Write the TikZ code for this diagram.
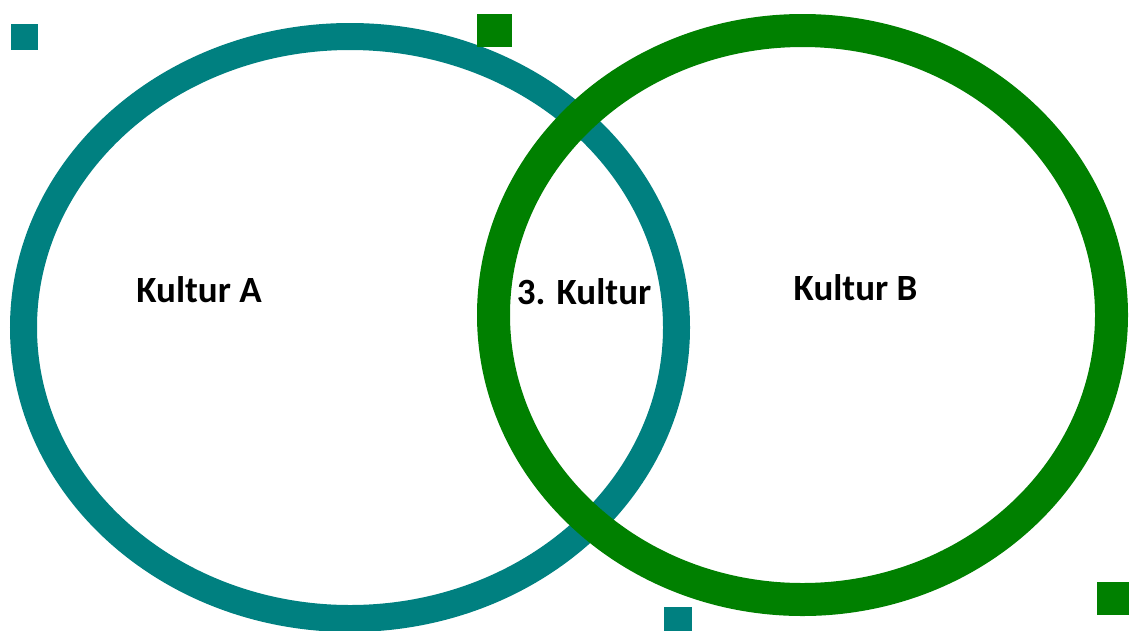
\documentclass[tikz,border=0pt]{standalone}
\usepackage{fontspec}
\setmainfont{Carlito}
\definecolor{tealA}{RGB}{0,128,128}
\definecolor{greenB}{RGB}{0,128,0}
\begin{document}
\begin{tikzpicture}[x=1pt,y=-1pt,
  ringA/.style={draw=tealA,line width=27pt},
  ringB/.style={draw=greenB,line width=33pt},
  lbl/.style={font=\fontsize{37}{44}\selectfont\bfseries,text=black,inner sep=0pt}]
\useasboundingbox[fill=white] (0,0) rectangle (1129,630);
\begin{scope}
\clip (0,0) rectangle (1129,630);
\draw[ringA] (350,327.5) ellipse [x radius=326.5, y radius=291];
\draw[ringB] (802.5,315) ellipse [x radius=309, y radius=284.5];
\fill[tealA] (11,24) rectangle (38,50);
\fill[greenB] (477,14) rectangle (512,47);
\fill[tealA] (664,607) rectangle (692,635);
\fill[greenB] (1097,582) rectangle (1132,615);
\end{scope}
\node[lbl] (a) at (199,290) {Kultur A};
\node[lbl] (c) at (584,292) {3. Kultur};
\node[lbl] (b) at (855.5,288) {Kultur B};
\end{tikzpicture}
\end{document}
